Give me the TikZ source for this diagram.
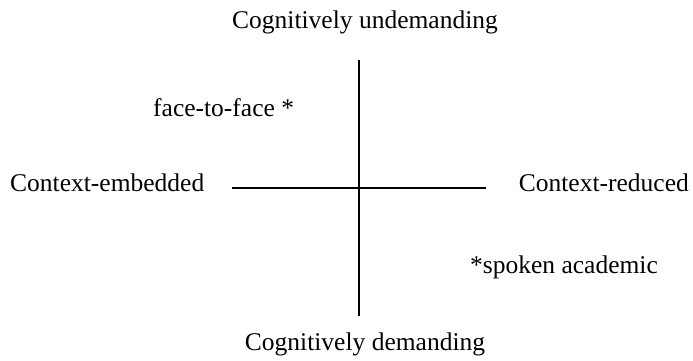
\documentclass[tikz,border=0pt]{standalone}
\usepackage{fontspec}
\setmainfont{Liberation Serif}
\usetikzlibrary{positioning}
\tikzset{axislbl/.style={font=\fontsize{25.5}{30}\selectfont, inner sep=0pt, anchor=base}}
\begin{document}
\begin{tikzpicture}[x=1pt,y=-1pt]
        \useasboundingbox (0,0) rectangle (693,361);
        % assi
            \coordinate (vtop) at (359,60);
            \coordinate (vbot) at (359,316);
            \coordinate (hleft) at (232,188);
            \coordinate (hright) at (486,188);
            \draw[line width=1.6pt] (vtop) -- (vbot);
            \draw[line width=1.6pt] (hleft) -- (hright);
        % etichette
            \node[axislbl] (undem) at (365,29) {Cognitively undemanding};
            \node[axislbl] (dem) at (365,350) {Cognitively demanding};
            \node[axislbl,anchor=base west] (embed) at (10,191) {Context-embedded};
            \node[axislbl,anchor=base east] (reduc) at (689,191) {Context-reduced};
            \node[axislbl,anchor=base west] (face) at (153,116) {face-to-face *};
            \node[axislbl,anchor=base west] (spoken) at (470,273) {*spoken academic};
        \end{tikzpicture}
\end{document}
